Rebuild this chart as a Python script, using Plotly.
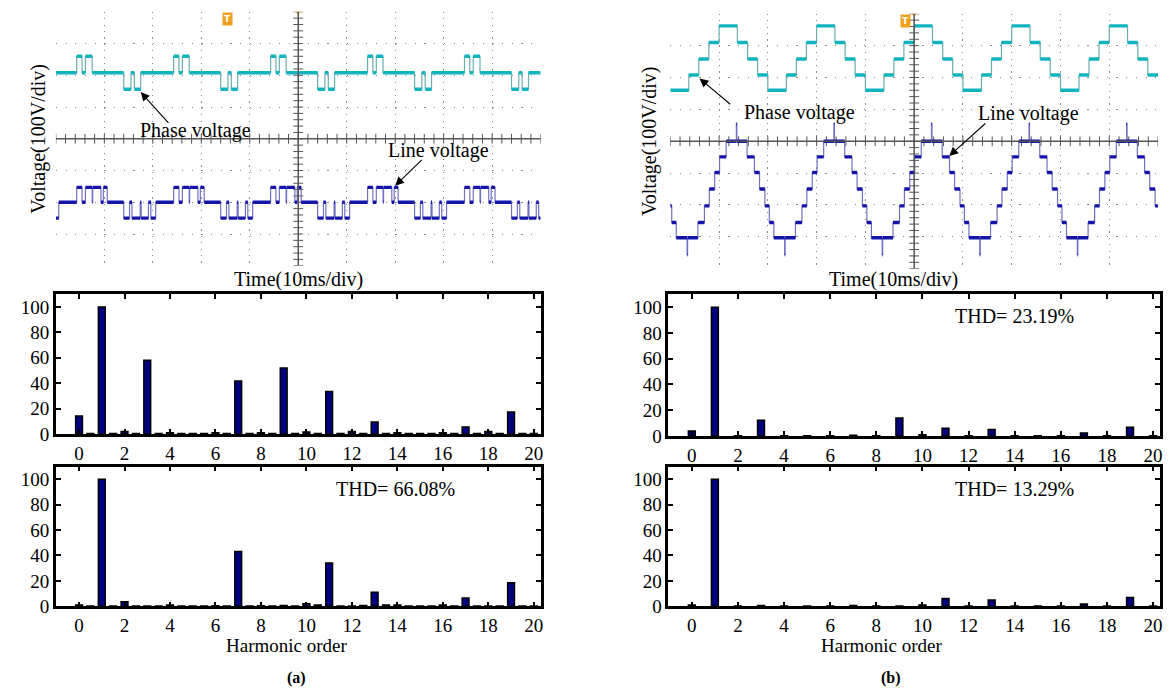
import plotly.graph_objects as go

W, H = 1174, 698

# ---------------- harmonic spectra (percent of fundamental) ----------------
ORDERS = [0, 1, 2, 3, 4, 5, 6, 7, 8, 9, 10, 11, 12, 13, 14, 15, 16, 17, 18, 19, 20]
INTER_ORDERS = [0.5, 1.5, 2.5, 3.5, 4.5, 5.5, 6.5, 7.5, 8.5, 9.5,
                10.5, 11.5, 12.5, 13.5, 14.5, 15.5, 16.5, 17.5, 18.5, 19.5]

A_PHASE = [14.2, 100, 2.0, 58.0, 1.0, 0.5, 1.0, 41.7, 1.0, 52.0, 1.6,
           33.5, 2.0, 9.5, 1.0, 0.5, 1.0, 5.5, 2.0, 17.4, 0.5]
A_PHASE_INTER = [0.5, 0.5, 0.4, 0.5, 0.4, 0.4, 0.4, 0.5, 0.5, 0.4,
                 0.4, 0.5, 0.4, 0.5, 0.4, 0.4, 0.4, 0.4, 0.4, 0.5]
A_LINE = [1.0, 100, 3.6, 0.3, 1.0, 0.3, 0.5, 43.2, 0.5, 0.6, 2.0,
          34.1, 0.3, 11.1, 1.0, 0.3, 1.0, 6.5, 0.3, 18.6, 0.3]
A_LINE_INTER = [0.2, 0.2, 0.2, 0.2, 0.2, 0.2, 0.2, 0.2, 0.2, 0.2,
                1.0, 0.2, 0.6, 1.0, 0.2, 0.2, 0.2, 0.2, 0.2, 0.2]
B_PHASE = [3.8, 100, 0.3, 12.2, 0.3, 0.3, 0.3, 0.6, 0.3, 14.0, 1.0,
           6.0, 0.3, 5.0, 0.3, 0.3, 0.3, 2.3, 0.3, 6.8, 0.3]
B_LINE = [1.0, 100, 0.3, 0.6, 0.3, 0.3, 0.3, 0.6, 0.3, 0.3, 1.0,
          6.2, 0.3, 4.9, 0.3, 0.3, 0.3, 1.8, 0.3, 7.0, 0.3]

THD_LABELS = ["THD= 66.08%", "THD= 23.19%", "THD= 13.29%"]
X_TICKS = [0, 2, 4, 6, 8, 10, 12, 14, 16, 18, 20]
Y_TICKS = [0, 20, 40, 60, 80, 100]

# ---------------- oscilloscope traces: step times (ms) and levels (V) ----------------
# (a) phase voltage
PA_T = [0, 4.3, 5.4, 6.1, 7.5, 14.0, 15.5, 16.2, 17.5,
        24.3, 25.4, 26.1, 27.5, 34.0, 35.5, 36.2, 37.5,
        44.3, 45.4, 46.1, 47.5, 54.0, 55.5, 56.2, 57.5,
        64.3, 65.4, 66.1, 67.5, 74.0, 75.5, 76.2, 77.5,
        84.3, 85.4, 86.1, 87.5, 94.0, 95.5, 96.2, 97.5, 100]
PA_V = [208, 260, 208, 260, 208, 156, 208, 156, 208,
        260, 208, 260, 208, 156, 208, 156, 208,
        260, 208, 260, 208, 156, 208, 156, 208,
        260, 208, 260, 208, 156, 208, 156, 208,
        260, 208, 260, 208, 156, 208, 156, 208, 208]
# (a) line voltage
LA_T = [0, 0.6, 4.3, 5.4, 6.1, 7.5, 7.6, 9.3, 9.8, 10.6, 14.0, 15.2, 15.7, 17.4, 17.6, 19.1, 19.6,
        20.6, 24.3, 25.4, 26.1, 27.5, 27.6, 29.3, 29.8, 30.6, 34.0, 35.2, 35.7, 37.4, 37.6, 39.1, 39.6,
        40.6, 44.3, 45.4, 46.1, 47.5, 47.6, 49.3, 49.8, 50.6, 54.0, 55.2, 55.7, 57.4, 57.6, 59.1, 59.6,
        60.6, 64.3, 65.4, 66.1, 67.5, 67.6, 69.3, 69.8, 70.6, 74.0, 75.2, 75.7, 77.4, 77.6, 79.1, 79.6,
        80.6, 84.3, 85.4, 86.1, 87.5, 87.6, 89.3, 89.8, 90.6, 94.0, 95.2, 95.7, 97.4, 97.6, 99.1, 99.6,
        100]
LA_V = [-250, -200, -153, -200, -153, -200, -153, -200, -153, -200, -250, -200, -250, -200, -250, -200, -250,
        -200, -153, -200, -153, -200, -153, -200, -153, -200, -250, -200, -250, -200, -250, -200, -250,
        -200, -153, -200, -153, -200, -153, -200, -153, -200, -250, -200, -250, -200, -250, -200, -250,
        -200, -153, -200, -153, -200, -153, -200, -153, -200, -250, -200, -250, -200, -250, -200, -250,
        -200, -153, -200, -153, -200, -153, -200, -153, -200, -250, -200, -250, -200, -250, -200, -250,
        -250]
# (b) phase voltage
PB_T = [0, 3.8, 5.85, 7.9, 10.0, 13.75, 15.85, 17.9,
        20.0, 23.8, 25.85, 27.9, 30.0, 33.75, 35.85, 37.9,
        40.0, 43.8, 45.85, 47.9, 50.0, 53.75, 55.85, 57.9,
        60.0, 63.8, 65.85, 67.9, 70.0, 73.75, 75.85, 77.9,
        80.0, 83.8, 85.85, 87.9, 90.0, 93.75, 95.85, 97.9, 100]
PB_V = [160, 208, 258, 310, 362, 310, 258, 208,
        160, 208, 258, 310, 362, 310, 258, 208,
        160, 208, 258, 310, 362, 310, 258, 208,
        160, 208, 258, 310, 362, 310, 258, 208,
        160, 208, 258, 310, 362, 310, 258, 208, 208]
# (b) line voltage
LB_T = [0, 0.3, 1.23, 3.45, 3.55, 5.66, 7.0, 8.0, 9.1, 10.1, 11.45, 13.55, 13.65, 15.75, 17.25, 18.3, 19.4,
        20.3, 21.23, 23.45, 23.55, 25.66, 27.0, 28.0, 29.1, 30.1, 31.45, 33.55, 33.65, 35.75, 37.25, 38.3, 39.4,
        40.3, 41.23, 43.45, 43.55, 45.66, 47.0, 48.0, 49.1, 50.1, 51.45, 53.55, 53.65, 55.75, 57.25, 58.3, 59.4,
        60.3, 61.23, 63.45, 63.55, 65.66, 67.0, 68.0, 69.1, 70.1, 71.45, 73.55, 73.65, 75.75, 77.25, 78.3, 79.4,
        80.3, 81.23, 83.45, 83.55, 85.66, 87.0, 88.0, 89.1, 90.1, 91.45, 93.55, 93.65, 95.75, 97.25, 98.3, 99.4,
        100]
LB_V = [-203, -255, -303, -356, -303, -255, -203, -150, -98, -49, 0, 55, 0, -49, -98, -150, -203,
        -255, -303, -356, -303, -255, -203, -150, -98, -49, 0, 55, 0, -49, -98, -150, -203,
        -255, -303, -356, -303, -255, -203, -150, -98, -49, 0, 55, 0, -49, -98, -150, -203,
        -255, -303, -356, -303, -255, -203, -150, -98, -49, 0, 55, 0, -49, -98, -150, -203,
        -255, -303, -356, -303, -255, -203, -150, -98, -49, 0, 55, 0, -49, -98, -150, -203,
        -203]

FONT = "Liberation Serif"
CYAN, CYAN_EDGE = "#10b4bf", "#6aaeae"
BLUE, BLUE_EDGE = "#1414a8", "#7272c4"
NAVY = "#000080"


def px_x(p):
    return p / W


def px_y(p):
    return 1 - p / H


fig = go.Figure()


def add_wave(T, V, xa, ya, col, edge):
    fig.add_trace(go.Scatter(x=T, y=V, mode="lines", line=dict(color=edge, width=1.2, shape="hv"),
                             xaxis=xa, yaxis=ya, hoverinfo="skip"))
    xs, ys = [], []
    for i in range(len(T) - 1):
        xs += [T[i], T[i + 1], None]
        ys += [V[i], V[i], None]
    fig.add_trace(go.Scatter(x=xs, y=ys, mode="lines", line=dict(color=col, width=3.4),
                             xaxis=xa, yaxis=ya, hoverinfo="skip"))


# crosshair minor ticks (decoration, every 1/5 division)
def add_cross(xa, ya):
    hx = [i * 2 for i in range(51)]
    vy = [-400 + i * 20 for i in range(41)]
    fig.add_trace(go.Scatter(x=hx, y=[0] * len(hx), mode="markers", xaxis=xa, yaxis=ya,
                             marker=dict(symbol="line-ns", size=7, line=dict(color="#555555", width=1)),
                             hoverinfo="skip"))
    fig.add_trace(go.Scatter(x=[50] * len(vy), y=vy, mode="markers", xaxis=xa, yaxis=ya,
                             marker=dict(symbol="line-ew", size=7, line=dict(color="#555555", width=1)),
                             hoverinfo="skip"))
    fig.add_trace(go.Scatter(x=[50], y=[400], mode="markers", xaxis=xa, yaxis=ya,
                             marker=dict(symbol="triangle-down", size=6, color="#f0a020"),
                             hoverinfo="skip"))


add_cross("x", "y")
add_cross("x2", "y2")
add_wave(PA_T, PA_V, "x", "y", CYAN, CYAN_EDGE)
add_wave(LA_T, LA_V, "x", "y", BLUE, BLUE_EDGE)
add_wave(PB_T, PB_V, "x2", "y2", CYAN, CYAN_EDGE)
add_wave(LB_T, LB_V, "x2", "y2", BLUE, BLUE_EDGE)

BAR_STYLE = dict(color=NAVY, line=dict(color="black", width=1.5))
# bar charts
for (vals, xa, ya) in [(A_PHASE, "x3", "y3"), (A_LINE, "x4", "y4"),
                       (B_PHASE, "x5", "y5"), (B_LINE, "x6", "y6")]:
    fig.add_trace(go.Bar(x=ORDERS, y=vals, width=0.3, xaxis=xa, yaxis=ya, marker=BAR_STYLE))
for (inter, xa, ya) in [(A_PHASE_INTER, "x3", "y3"), (A_LINE_INTER, "x4", "y4")]:
    fig.add_trace(go.Bar(x=INTER_ORDERS, y=inter, width=0.3, xaxis=xa, yaxis=ya, marker=BAR_STYLE))


def scope_axes(l, r, t, b, ya_name, xa_name):
    xa = dict(domain=[px_x(l), px_x(r)], range=[0, 100], tick0=0, dtick=10, showgrid=True,
              gridcolor="#8a8a8a", gridwidth=1.2, griddash="1.2px,5.2px", zeroline=False,
              showticklabels=False, ticks="", showline=False, anchor=ya_name, fixedrange=True)
    ya = dict(domain=[px_y(b), px_y(t)], range=[-400, 400], tick0=0, dtick=100, showgrid=True,
              gridcolor="#8a8a8a", gridwidth=1.2, griddash="1.2px,8.5px", zeroline=False,
              showticklabels=False, ticks="", showline=False, anchor=xa_name, fixedrange=True)
    return xa, ya


def bar_axes(l, r, t, b, ya_name, xa_name):
    common = dict(ticks="inside", ticklen=5, tickwidth=1.5, tickcolor="black", showline=True,
                  linewidth=2.5, linecolor="black", mirror="ticks", showgrid=False, zeroline=False,
                  tickfont=dict(family=FONT, size=19, color="black"), fixedrange=True)
    xa = dict(domain=[px_x(l), px_x(r)], range=[-1.02, 20.3], tickvals=X_TICKS, anchor=ya_name, **common)
    ya = dict(domain=[px_y(b), px_y(t)], range=[0, 110], tickvals=Y_TICKS, anchor=xa_name, **common)
    return xa, ya


xa1, ya1 = scope_axes(56, 542, 12, 270, "y", "x")
xa2, ya2 = scope_axes(672, 1161, 14, 273, "y2", "x2")
xa3, ya3 = bar_axes(56, 542, 299, 441, "y3", "x3")
xa4, ya4 = bar_axes(56, 542, 474, 616, "y4", "x4")
xa5, ya5 = bar_axes(670, 1163, 299, 443, "y5", "x5")
xa6, ya6 = bar_axes(670, 1163, 474, 616, "y6", "x6")

fig.update_layout(
    width=W, height=H, margin=dict(l=0, r=0, t=0, b=0),
    paper_bgcolor="white", plot_bgcolor="white", showlegend=False, barmode="overlay",
    font=dict(family=FONT, size=20, color="black"),
    xaxis=xa1, yaxis=ya1, xaxis2=xa2, yaxis2=ya2, xaxis3=xa3, yaxis3=ya3,
    xaxis4=xa4, yaxis4=ya4, xaxis5=xa5, yaxis5=ya5, xaxis6=xa6, yaxis6=ya6,
)

# crosshair lines
for xr, yr in [("x", "y"), ("x2", "y2")]:
    fig.add_shape(type="line", xref=xr, yref=yr, x0=50, x1=50, y0=-400, y1=400,
                  line=dict(color="#555555", width=1.5))
    fig.add_shape(type="line", xref=xr, yref=yr, x0=0, x1=100, y0=0, y1=0,
                  line=dict(color="#555555", width=1.5))

ann = []
TXT = dict(family=FONT, size=20, color="black")


def label(x, y, text, xref, yref, **kw):
    d = dict(x=x, y=y, xref=xref, yref=yref, text=text, showarrow=False, font=TXT,
             xanchor="center", yanchor="middle")
    d.update(kw)
    ann.append(d)


def arrow(tx, ty, sx, sy, xref, yref):
    ann.append(dict(x=tx, y=ty, ax=sx, ay=sy, xref=xref, yref=yref, axref=xref, ayref=yref,
                    text="", showarrow=True, arrowhead=2, arrowsize=1.6, arrowwidth=1.1,
                    arrowcolor="black"))


T_FONT = dict(family="DejaVu Sans", size=9, color="white")
# panel (a) scope
label(28.8, 26, "Phase voltage", "x", "y")
arrow(17.5, 147, 23.5, 45, "x", "y")
label(78.9, -36, "Line voltage", "x", "y")
arrow(70.0, -148, 75.8, -62, "x", "y")
label(35.4, 377, "<b>T</b>", "x", "y", font=T_FONT, bgcolor="#f0a020", borderpad=1)
# panel (b) scope
label(26.5, 91, "Phase voltage", "x2", "y2")
arrow(6.0, 197, 12.6, 112, "x2", "y2")
label(73.5, 86, "Line voltage", "x2", "y2")
arrow(57.2, -46, 64.9, 60, "x2", "y2")
label(48.2, 376, "<b>T</b>", "x2", "y2", font=T_FONT, bgcolor="#f0a020", borderpad=1)

# axis titles
label(px_x(39), px_y(141), "Voltage(100V/div)", "paper", "paper", textangle=-90)
label(px_x(651), px_y(143), "Voltage(100V/div)", "paper", "paper", textangle=-90)
label(px_x(299), px_y(284), "Time(10ms/div)", "paper", "paper")
label(px_x(896), px_y(284), "Time(10ms/div)", "paper", "paper")
label(px_x(287), px_y(656), "Harmonic order", "paper", "paper", font=dict(family=FONT, size=19, color="black"))
label(px_x(884), px_y(656), "Harmonic order", "paper", "paper", font=dict(family=FONT, size=19, color="black"))
label(px_x(297), px_y(689), "<b>(a)</b>", "paper", "paper", font=dict(family=FONT, size=16, color="black"))
label(px_x(893), px_y(689), "<b>(b)</b>", "paper", "paper", font=dict(family=FONT, size=16, color="black"))

# THD texts
label(13.9, 92, THD_LABELS[0], "x4", "y4")
label(14.0, 93, THD_LABELS[1], "x5", "y5")
label(14.0, 92, THD_LABELS[2], "x6", "y6")

fig.update_layout(annotations=ann)
fig.write_html("out.html")
